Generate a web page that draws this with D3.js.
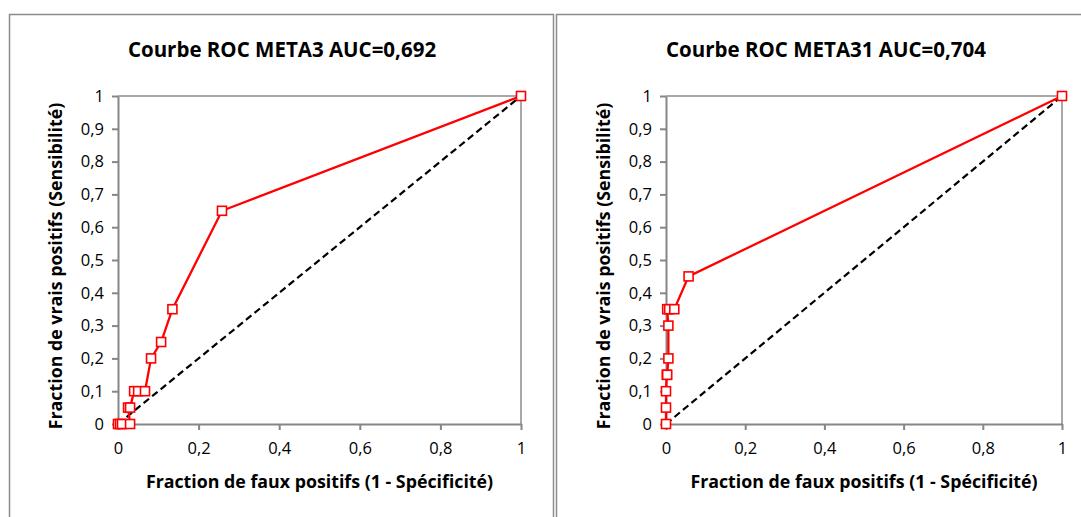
<!DOCTYPE html>
<html><head><meta charset="utf-8">
<script src="https://cdn.jsdelivr.net/npm/d3@7"></script>
<style>
body{margin:0;background:#fff;}
svg{display:block;}
text{font-family:"Open Sans","Noto Sans",sans-serif;}
</style></head>
<body>
<svg id="c" width="1081" height="517"></svg>
<script>
const titles = ["Courbe ROC META3 AUC=0,692", "Courbe ROC META31 AUC=0,704"];
const xLabel = "Fraction de faux positifs (1 - Spécificité)";
const yLabel = "Fraction de vrais positifs (Sensibilité)";
const meta3X = [0, 0.005, 0.01, 0.03, 0.025, 0.03, 0.04, 0.05, 0.067, 0.082, 0.107, 0.135, 0.258, 1];
const meta3Y = [0, 0, 0, 0, 0.05, 0.05, 0.1, 0.1, 0.1, 0.2, 0.25, 0.35, 0.65, 1];
const meta31X = [0, 0, 0, 0.002, 0.003, 0.006, 0.006, 0.003, 0.008, 0.021, 0.057, 1];
const meta31Y = [0, 0.05, 0.1, 0.15, 0.15, 0.2, 0.3, 0.35, 0.35, 0.35, 0.45, 1];
const diagX = [0, 1];
const diagY = [0, 1];
const yTicks = [0, 0.1, 0.2, 0.3, 0.4, 0.5, 0.6, 0.7, 0.8, 0.9, 1];
const xTicks = [0, 0.2, 0.4, 0.6, 0.8, 1];

const svg = d3.select("#c");
const fmt = v => String(+v.toFixed(1)).replace(".", ",");

const panels = [
  {frame:[9.5, 14.5, 544, 520], plot:[118, 521, 96, 424], title: titles[0], xs: meta3X, ys: meta3Y, tx: 282, ylx: 62},
  {frame:[556.5, 14.5, 540, 520], plot:[666, 1062, 96, 424], title: titles[1], xs: meta31X, ys: meta31Y, tx: 826, ylx: 610}
];

panels.forEach(p => {
  svg.append("rect").attr("x", p.frame[0]).attr("y", p.frame[1]).attr("width", p.frame[2]).attr("height", p.frame[3])
    .attr("fill", "#fff").attr("stroke", "#8c8c8c").attr("stroke-width", 1.5);
  const x = d3.scaleLinear().domain([0, 1]).range([p.plot[0], p.plot[1]]);
  const y = d3.scaleLinear().domain([0, 1]).range([p.plot[3], p.plot[2]]);
  const g = svg.append("g");
  g.append("path").attr("d", `M${x(0)},${y(1)}H${x(1)}V${y(0)}`).attr("fill", "none").attr("stroke", "#8c8c8c").attr("stroke-width", 1.5);
  const xa = g.append("g").attr("transform", `translate(0,${y(0)})`)
    .call(d3.axisBottom(x).tickValues(xTicks).tickFormat(fmt).tickSize(6).tickSizeOuter(0));
  const ya = g.append("g").attr("transform", `translate(${x(0)},0)`)
    .call(d3.axisLeft(y).tickValues(yTicks).tickFormat(fmt).tickSize(6).tickSizeOuter(0));
  [xa, ya].forEach(a => {
    a.select(".domain").attr("stroke", "#868686").attr("stroke-width", 2);
    a.selectAll(".tick line").attr("stroke", "#868686").attr("stroke-width", 2);
    a.selectAll(".tick text").attr("fill", "#000").style("font-size", "16.5px").style("font-family", "'Open Sans',sans-serif");
  });
  xa.selectAll(".tick text").attr("dy", "1em").attr("y", 13);
  ya.selectAll(".tick text").attr("x", -14);
  const line = d3.line().x(d => x(d[0])).y(d => y(d[1]));
  g.append("path").attr("d", line(diagX.map((v, i) => [v, diagY[i]])))
    .attr("fill", "none").attr("stroke", "#000").attr("stroke-width", 2.2).attr("stroke-dasharray", "7,4");
  const pts = p.xs.map((v, i) => [v, p.ys[i]]);
  g.append("path").attr("d", line(pts)).attr("fill", "none").attr("stroke", "#ff0000").attr("stroke-width", 2.3);
  g.selectAll("rect.m").data(pts).enter().append("rect").attr("class", "m")
    .attr("x", d => x(d[0]) - 4.5).attr("y", d => y(d[1]) - 4.5).attr("width", 9).attr("height", 9)
    .attr("fill", "#fff").attr("stroke", "#ff0000").attr("stroke-width", 1.6);
  svg.append("text").attr("x", p.tx).attr("y", 57).attr("text-anchor", "middle")
    .style("font-size", "20.5px").style("font-weight", "bold").text(p.title);
  svg.append("text").attr("x", (p.plot[0] + p.plot[1]) / 2).attr("y", 488).attr("text-anchor", "middle")
    .style("font-size", "17.8px").style("font-weight", "bold").text(xLabel);
  svg.append("text").attr("transform", `translate(${p.ylx},${(p.plot[2] + p.plot[3]) / 2 + 6}) rotate(-90)`)
    .attr("text-anchor", "middle").style("font-size", "17.8px").style("font-weight", "bold").text(yLabel);
});
</script>
</body></html>
